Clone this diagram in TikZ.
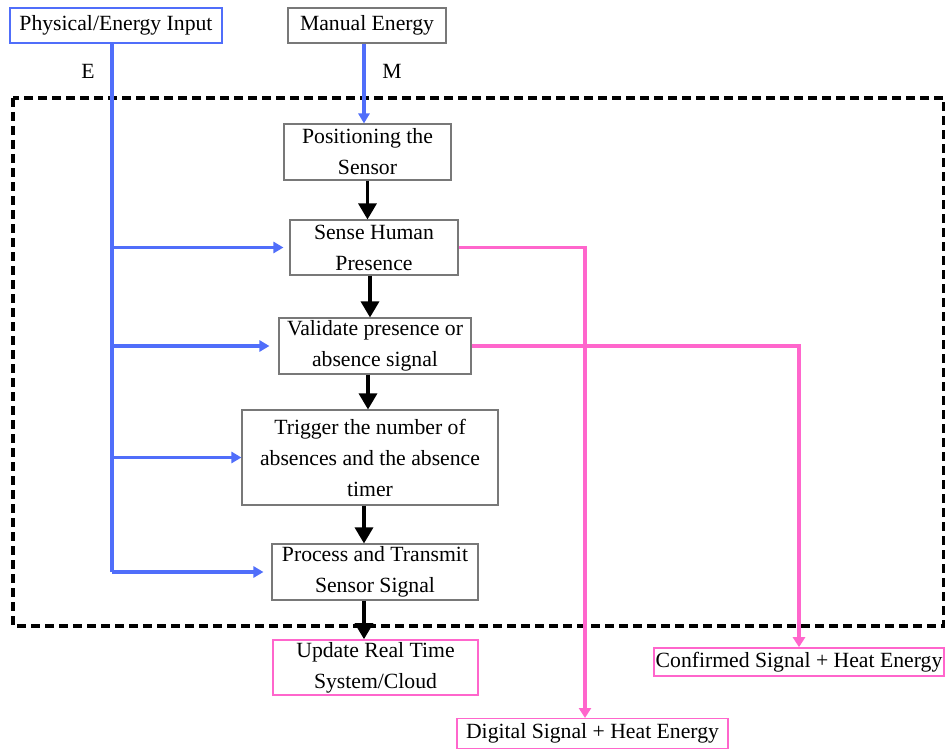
\documentclass[tikz,border=0pt]{standalone}
\usepackage{fontspec}
\setmainfont{Liberation Serif}
\usetikzlibrary{arrows.meta,calc}
\definecolor{eblue}{RGB}{80,110,250}
\definecolor{spink}{RGB}{255,102,204}
\definecolor{bgray}{RGB}{120,120,120}
\begin{document}
\begin{tikzpicture}[x=1pt,y=-1pt,
  every node/.style={font=\fontsize{21.7}{31}\selectfont},
  box/.style={draw=bgray,line width=1.1pt,inner sep=0pt,align=center},
  pbox/.style={draw=spink,line width=1.6pt,inner sep=0pt,align=center},
  bbox/.style={draw=eblue,line width=1.6pt,inner sep=0pt,align=center},
  flow/.style={line width=3.2pt,-{Triangle[length=16pt,width=18pt]}},
  eline/.style={draw=eblue,line width=3.2pt,-{Triangle[length=10pt,width=11pt]}},
  pline/.style={draw=spink,line width=3.2pt,-{Triangle[length=10pt,width=12pt]}}]
\useasboundingbox (0,0) rectangle (945,749);
\node[bbox,minimum width=212,minimum height=35] (phys) at (116,25.5) {Physical/Energy Input};
\node[box,minimum width=158,minimum height=35] (man) at (367,25.5) {Manual Energy};
\node (E) at (88,71) {E};
\node (M) at (392,71) {M};
\draw[line width=3.2pt,dash pattern=on 9pt off 5pt] (13,98) rectangle (944,626);
\node[box,minimum width=167,minimum height=56] (pos) at (367.5,152) {Positioning the\\Sensor};
\node[box,minimum width=168,minimum height=55] (sense) at (374,247.5) {Sense Human\\Presence};
\node[box,minimum width=192,minimum height=56] (valid) at (375,346) {Validate presence or\\absence signal};
\node[box,minimum width=256,minimum height=95] (trig) at (370,457.5) {Trigger the number of\\absences and the absence\\timer};
\node[box,minimum width=206,minimum height=56] (proc) at (375,572) {Process and Transmit\\Sensor Signal};
\node[pbox,minimum width=205,minimum height=55] (upd) at (375.5,667.5) {Update Real Time\\System/Cloud};
\node[pbox,minimum width=290,minimum height=28] (conf) at (799,662) {Confirmed Signal + Heat Energy};
\node[pbox,minimum width=271,minimum height=30] (dig) at (592.5,733.5) {Digital Signal + Heat Energy};
% anchor points
\coordinate (m0) at ($(man.south)+(-3,0)$);
\coordinate (a1) at ($(sense.south)+(-4,0)$);
\coordinate (a2) at ($(valid.south)+(-7,0)$);
\coordinate (a3) at ($(trig.south)+(-6,0)$);
\coordinate (a4) at ($(proc.south)+(-11,0)$);
% manual energy
\draw[eline] (m0) -- (m0 |- pos.north);
% blue trunk
\coordinate (bt) at (112,572);
\draw[draw=eblue,line width=3.2pt] (phys.south -| bt) -- (bt);
\draw[eline,shorten >=6pt] (bt |- sense.west) -- (sense.west);
\draw[eline,shorten >=9pt] (bt |- valid.west) -- (valid.west);
\draw[eline] (bt |- trig.west) -- (trig.west);
\draw[eline,shorten >=8pt] (bt) -- (proc.west);
% main flow
\draw[flow] (pos.south) -- (pos.south |- sense.north);
\draw[flow] (a1) -- (a1 |- valid.north);
\draw[flow] (a2) -- (a2 |- trig.north);
\draw[flow] (a3) -- (a3 |- proc.north);
\draw[flow] (a4) -- (a4 |- upd.north);
% pink outputs
\coordinate (dtop) at (585,718);
\draw[pline] (sense.east) -| (dtop);
\draw[pline] (valid.east) -| (conf.north);
\end{tikzpicture}
\end{document}
